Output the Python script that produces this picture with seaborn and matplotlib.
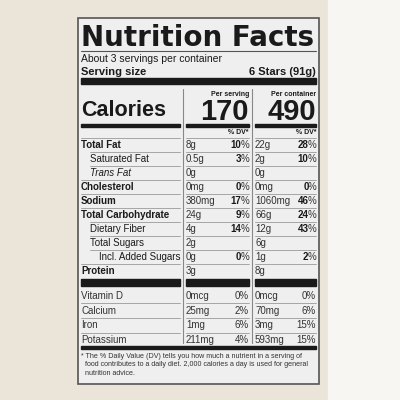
import matplotlib
matplotlib.use("Agg")
import matplotlib.pyplot as plt
import seaborn as sns

sns.set_theme(style="white")
plt.rcParams['font.family'] = ['Liberation Sans', 'DejaVu Sans']

# Nutrition values
nutrients = ["Total Fat", "Saturated Fat", "Trans Fat", "Cholesterol", "Sodium",
             "Total Carbohydrate", "Dietary Fiber", "Total Sugars", "Incl. Added Sugars", "Protein"]
indent = [0, 1, 1, 0, 0, 0, 1, 1, 2, 0]
bold = [True, False, False, True, True, True, False, False, False, True]
serv_amt = ["8g", "0.5g", "0g", "0mg", "380mg", "24g", "4g", "2g", "0g", "3g"]
serv_dv = ["10", "3", "", "0", "17", "9", "14", "", "0", ""]
cont_amt = ["22g", "2g", "0g", "0mg", "1060mg", "66g", "12g", "6g", "1g", "8g"]
cont_dv = ["28", "10", "", "0", "46", "24", "43", "", "2", ""]

vitamins = ["Vitamin D", "Calcium", "Iron", "Potassium"]
vit_serv_amt = ["0mcg", "25mg", "1mg", "211mg"]
vit_serv_dv = ["0%", "2%", "6%", "4%"]
vit_cont_amt = ["0mcg", "70mg", "3mg", "593mg"]
vit_cont_dv = ["0%", "6%", "15%", "15%"]

cal_serving = "170"
cal_container = "490"

fig = plt.figure(figsize=(4, 4), dpi=100)
fig.patch.set_facecolor("#ebe5d9")
ax = fig.add_axes([0, 0, 1, 1])
ax.set_xlim(0, 400)
ax.set_ylim(400, 0)
ax.axis("off")

ink = "#1a1a1a"
ax.add_patch(plt.Rectangle((328, 0), 72, 400, color="#f7f6f3", zorder=0))
ax.add_patch(plt.Rectangle((78, 18), 241, 366, facecolor="#efefef", edgecolor="#555555", lw=1.2, zorder=1))

def bar(y, h, x0=81, x1=316):
    ax.add_patch(plt.Rectangle((x0, y), x1 - x0, h, color=ink, zorder=2))

def hline(y, x0, x1, lw=0.6, c="#999999"):
    ax.plot([x0, x1], [y, y], color=c, lw=lw, zorder=2)

ax.text(198, 38, "Nutrition Facts", fontsize=20, fontweight="heavy", va="center", ha="center",
        color=ink, family="DejaVu Sans")
hline(51, 81, 316, lw=0.8, c="#555555")
ax.text(81, 59, "About 3 servings per container", fontsize=7.5, va="center", color=ink)
ax.text(81, 72, "Serving size", fontsize=8, fontweight="bold", va="center", color=ink)
ax.text(316, 72, "6 Stars (91g)", fontsize=8, fontweight="bold", va="center", ha="right", color=ink)
bar(78, 6)

cols = [(186, 249), (255, 316)]
for xd in (183, 252):
    ax.plot([xd, xd], [89, 343], color="#888888", lw=0.8, zorder=2)

ax.text(81, 110, "Calories", fontsize=15.5, fontweight="bold", va="center", color=ink)
ax.text(249, 95, "Per serving", fontsize=5, fontweight="bold", ha="right", va="center", color=ink)
ax.text(316, 95, "Per container", fontsize=5, fontweight="bold", ha="right", va="center", color=ink)
ax.text(249, 112, cal_serving, fontsize=21, fontweight="bold", ha="right", va="center", color=ink)
ax.text(316, 112, cal_container, fontsize=21, fontweight="bold", ha="right", va="center", color=ink)
bar(124, 3, 81, 180)
bar(124, 3, 186, 249)
bar(124, 3, 255, 316)
for x0, x1 in cols:
    ax.text(x1, 132, "% DV*", fontsize=5, fontweight="bold", ha="right", va="center", color=ink)
hline(138, 81, 180)
for x0, x1 in cols:
    hline(138, x0, x1)

row_y = [145 + 14 * i for i in range(len(nutrients))]
for i, name in enumerate(nutrients):
    y = row_y[i]
    style = "italic" if name == "Trans Fat" else "normal"
    ax.text(81 + 9 * indent[i], y, name, fontsize=7, va="center", color=ink,
            fontweight="bold" if bold[i] else "normal", fontstyle=style)
    for (x0, x1), amt, dv in zip(cols, (serv_amt[i], cont_amt[i]), (serv_dv[i], cont_dv[i])):
        ax.text(x0, y, amt, fontsize=7, va="center", color="#333333")
        if dv:
            ax.text(x1 - 7.5, y, dv, fontsize=7, fontweight="bold", va="center", ha="right", color=ink)
            ax.text(x1, y, "%", fontsize=7, va="center", ha="right", color="#333333")
    if i < len(nutrients) - 1:
        xs = 81 + 9 * (1 if indent[i + 1] else 0)
        hline(y + 7, xs, 180)
        for x0, x1 in cols:
            hline(y + 7, x0, x1)

bar(279, 7, 81, 180)
bar(279, 7, 186, 249)
bar(279, 7, 255, 316)

vit_y = [296 + 14.7 * i for i in range(len(vitamins))]
for i, name in enumerate(vitamins):
    y = vit_y[i]
    ax.text(81, y, name, fontsize=7, va="center", color="#333333")
    for (x0, x1), amt, dv in zip(cols, (vit_serv_amt[i], vit_cont_amt[i]), (vit_serv_dv[i], vit_cont_dv[i])):
        ax.text(x0, y, amt, fontsize=7, va="center", color="#333333")
        ax.text(x1, y, dv, fontsize=7, va="center", ha="right", color="#333333")
    if i < len(vitamins) - 1:
        hline(y + 7.3, 81, 180)
        for x0, x1 in cols:
            hline(y + 7.3, x0, x1)

bar(346, 3)
ax.text(81, 353, "* The % Daily Value (DV) tells you how much a nutrient in a serving of\n"
        "  food contributes to a daily diet. 2,000 calories a day is used for general\n"
        "  nutrition advice.", fontsize=5.1, va="top", color="#333333", linespacing=1.3)

fig.savefig("out.png", dpi=100, facecolor=fig.get_facecolor())
